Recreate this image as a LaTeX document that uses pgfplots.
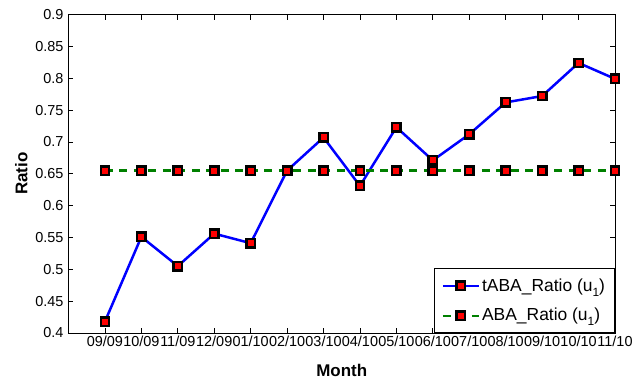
\documentclass[border=0pt]{standalone}
\usepackage{fontspec}
\setmainfont{Liberation Sans}
\usepackage{pgfplots}
\pgfplotsset{compat=1.18}
\definecolor{mgreen}{rgb}{0,0.5,0}
\newcommand{\sub}[1]{\raisebox{-5bp}{\fontsize{12}{12}\selectfont #1}}
\begin{document}
\fontsize{14.5}{17}\selectfont
\begin{tikzpicture}
\begin{axis}[
  at={(0,0)}, anchor=south west,
  scale only axis,
  width=546.5bp, height=318.5bp,
  xmin=0, xmax=15, ymin=0.4, ymax=0.9,
  xtick={1,...,15},
  xticklabels={09/09,10/09,11/09,12/09,01/10,02/10,03/10,04/10,05/10,06/10,07/10,08/10,09/10,10/10,11/10},
  ytick={0.4,0.45,0.5,0.55,0.6,0.65,0.7,0.75,0.8,0.85,0.9},
  yticklabels={0.4,0.45,0.5,0.55,0.6,0.65,0.7,0.75,0.8,0.85,0.9},
  tick align=inside,
  major tick length=5bp,
  axis line style={line width=1bp},
  every tick/.style={black, line width=0.8bp},
  tick label style={font=\fontsize{14.5}{17}\selectfont},
  xticklabel style={inner sep=1bp, yshift=-2bp},
  xlabel={\fontsize{17}{19}\selectfont\bfseries Month},
  ylabel={\fontsize{17}{19}\selectfont\bfseries Ratio},
  xlabel style={yshift=-11bp},
  ylabel style={yshift=-2bp},
  legend style={at={(1,0)}, anchor=south east, draw=black, line width=1bp,
    font=\fontsize{17.5}{20}\selectfont, row sep=11bp, inner xsep=7.5bp, inner ysep=7.5bp,
    cells={anchor=west}},
  legend image code/.code={%
    \draw[#1, mark repeat=2, mark phase=2] plot coordinates {(0bp,0bp)(18bp,0bp)(36bp,0bp)};},
  clip=false,
]
\addplot[blue, line width=2.5bp, mark=square*, mark size=4.2bp,
  mark options={solid, fill=red, draw=black, line width=2.4bp}]
  coordinates {(1,0.418)(2,0.551)(3,0.505)(4,0.556)(5,0.541)(6,0.655)(7,0.707)(8,0.631)(9,0.723)(10,0.671)(11,0.712)(12,0.762)(13,0.772)(14,0.824)(15,0.799)};
\addlegendentry{tABA\_Ratio (u\sub{1})}
\addplot[mgreen, line width=2.2bp, dash pattern=on 8bp off 6.5bp, mark=square*, mark size=4.2bp,
  mark options={solid, fill=red, draw=black, line width=2.4bp}]
  coordinates {(1,0.655)(2,0.655)(3,0.655)(4,0.655)(5,0.655)(6,0.655)(7,0.655)(8,0.655)(9,0.655)(10,0.655)(11,0.655)(12,0.655)(13,0.655)(14,0.655)(15,0.655)};
\addlegendentry{ABA\_Ratio (u\sub{1})}
\end{axis}
\pgfresetboundingbox
\path (-68.5bp,-46bp) rectangle (565.5bp,333bp);
\end{tikzpicture}
\end{document}
